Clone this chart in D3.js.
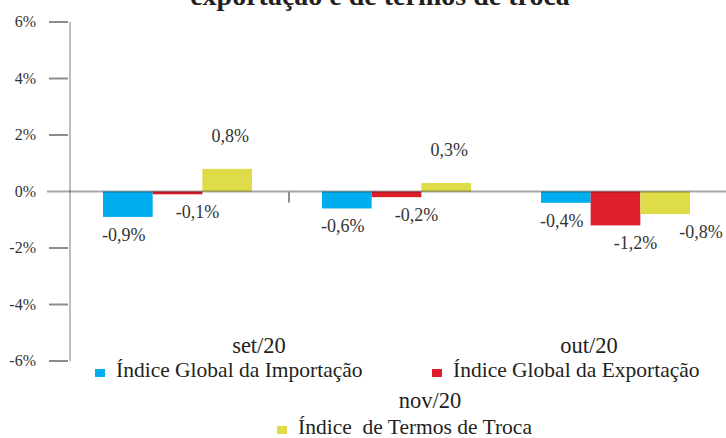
<!DOCTYPE html>
<html>
<head>
<meta charset="utf-8">
<script src="https://cdn.jsdelivr.net/npm/d3@7"></script>
<style>
  body { margin: 0; background: #fff; }
  svg { display: block; font-family: "Liberation Serif", serif; }
</style>
</head>
<body>
<div class="plot"></div>
<script>
const width = 726;
const height = 438;

// data
const months = ["set/20", "out/20", "nov/20"];
const series = [
    "Índice Global da Importação",
    "Índice Global da Exportação",
    "Índice  de Termos de Troca",
];
const importacao = [-0.9, -0.6, -0.4];
const exportacao = [-0.1, -0.2, -1.2];
const termosTroca = [0.8, 0.3, -0.8];
const yTicks = [-6, -4, -2, 0, 2, 4, 6];

const colors = ["#00aeef", "#dc1f2b", "#dedc48"];
const values = [importacao, exportacao, termosTroca];

const svg = d3
    .select(".plot")
    .append("svg")
    .attr("width", width)
    .attr("height", height);

// title, cut off at the top like in the source image
svg.append("text")
    .attr("x", 380)
    .attr("y", 5)
    .attr("text-anchor", "middle")
    .style("font-weight", "bold")
    .style("font-size", "28px")
    .style("fill", "#231f20")
    .text("exportação e de termos de troca");

const x0 = d3.scaleBand().domain(months).range([70, 727]);
const x1 = d3.scaleBand().domain(series).range([33, 182]);
const y = d3.scaleLinear().domain([-6, 6]).range([361, 22]);

// y axis
svg.append("line")
    .attr("x1", 70).attr("x2", 70)
    .attr("y1", y(6)).attr("y2", y(-6))
    .style("stroke", "#aaa")
    .style("stroke-width", 1.5);

svg.selectAll(".ytick")
    .data(yTicks.filter((d) => d !== 0))
    .join("line")
    .attr("class", "ytick")
    .attr("x1", 49).attr("x2", 68)
    .attr("y1", (d) => y(d)).attr("y2", (d) => y(d))
    .style("stroke", "#8c8c8c")
    .style("stroke-width", 2);

svg.selectAll(".ylabel")
    .data(yTicks)
    .join("text")
    .attr("class", "ylabel")
    .attr("x", 36)
    .attr("y", (d) => y(d) + 5)
    .attr("text-anchor", "end")
    .style("font-size", "16px")
    .style("fill", "#333")
    .text((d) => d + "%");

// bars
const rows = [];
months.forEach((m, i) => {
    series.forEach((s, j) => {
        rows.push({ month: m, series: s, j: j, value: values[j][i] });
    });
});

svg.selectAll(".bar")
    .data(rows)
    .join("rect")
    .attr("class", "bar")
    .attr("x", (d) => x0(d.month) + x1(d.series))
    .attr("y", (d) => y(Math.max(0, d.value)))
    .attr("width", x1.bandwidth())
    .attr("height", (d) => Math.abs(y(d.value) - y(0)))
    .style("fill", (d) => colors[d.j]);

// zero line over the bars
svg.append("line")
    .attr("x1", 47).attr("x2", width)
    .attr("y1", y(0)).attr("y2", y(0))
    .style("stroke", "#000")
    .style("stroke-opacity", 0.35)
    .style("stroke-width", 2);

svg.append("line")
    .attr("x1", x0("out/20")).attr("x2", x0("out/20"))
    .attr("y1", y(0)).attr("y2", y(0) + 11)
    .style("stroke", "#8c8c8c")
    .style("stroke-width", 2);

// value labels
const fmt = (v) => d3.format(".1f")(v).replace(".", ",").replace("−", "-") + "%";
const labelDx = [-4, 20, 3];

const labels = svg.selectAll(".vlabel")
    .data(rows)
    .join("text")
    .attr("class", "vlabel")
    .attr("x", (d) => x0(d.month) + x1(d.series) + x1.bandwidth() / 2 + labelDx[d.j])
    .attr("y", (d) => (d.value >= 0 ? y(d.value) - 27 : y(d.value) + 24))
    .attr("text-anchor", "middle")
    .style("font-size", "18px")
    .style("fill", "#333")
    .text((d) => fmt(d.value));

// push overlapping labels to the right
const boxes = [];
labels.each(function () {
    let b = this.getBBox();
    boxes.forEach((o) => {
        const hit = b.x < o.x + o.width && b.x + b.width > o.x &&
            b.y < o.y + o.height && b.y + b.height > o.y;
        if (hit) {
            const shift = o.x + o.width + 22 - b.x;
            d3.select(this).attr("x", +d3.select(this).attr("x") + shift);
            b = this.getBBox();
        }
    });
    boxes.push(b);
});

// category labels and legend, laid out in rows as in the source
const catPos = [[259, 353], [589, 353], [430, 408]];
svg.selectAll(".cat")
    .data(months)
    .join("text")
    .attr("class", "cat")
    .attr("x", (d, i) => catPos[i][0])
    .attr("y", (d, i) => catPos[i][1])
    .attr("text-anchor", "middle")
    .style("font-size", "22.5px")
    .style("fill", "#231f20")
    .text((d) => d);

const legPos = [[95, 377], [432, 377], [277, 434]];
const legend = svg.selectAll(".legend")
    .data(series)
    .join("g")
    .attr("class", "legend")
    .attr("transform", (d, i) => `translate(${legPos[i][0]}, ${legPos[i][1]})`);

legend.append("rect")
    .attr("x", 0)
    .attr("y", -8)
    .attr("width", 10)
    .attr("height", 8)
    .style("fill", (d, i) => colors[i]);

legend.append("text")
    .attr("x", 21)
    .attr("y", 0)
    .style("font-size", "21.5px")
    .style("fill", "#231f20")
    .style("white-space", "pre")
    .text((d) => d);
</script>
</body>
</html>
